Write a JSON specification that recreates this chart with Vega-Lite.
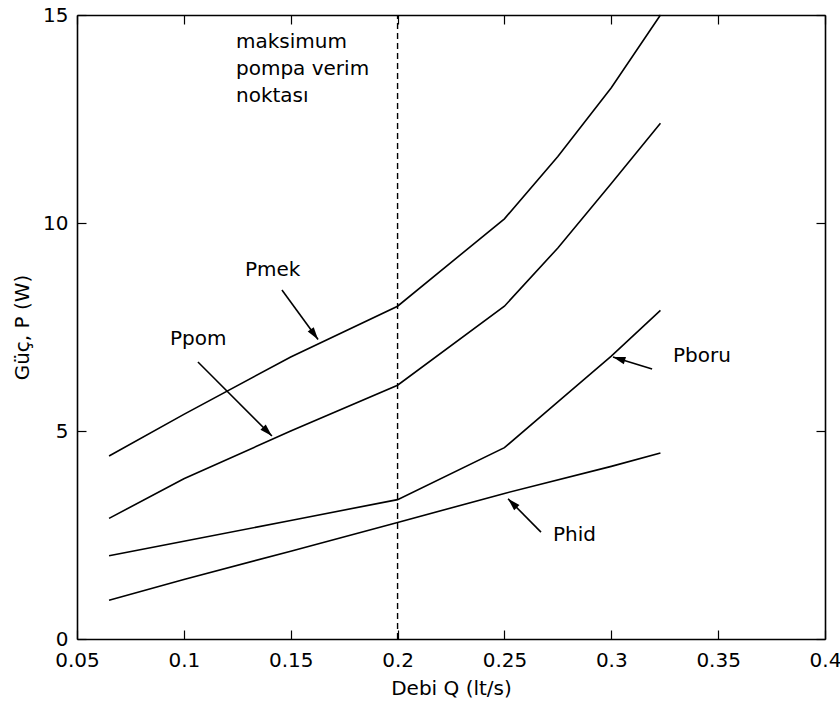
{
  "$schema": "https://vega.github.io/schema/vega-lite/v6.json",
  "autosize": {"type": "none"},
  "padding": {"left": 77, "top": 15, "right": 15, "bottom": 72},
  "width": 748,
  "height": 624,
  "background": "white",
  "config": {
    "font": "DejaVu Sans",
    "view": {"stroke": null},
    "axis": {
      "grid": false,
      "domainColor": "black",
      "domainWidth": 1.6,
      "tickColor": "black",
      "tickWidth": 1.2,
      "tickSize": -9,
      "labelFont": "DejaVu Sans",
      "labelFontSize": 20,
      "labelColor": "black",
      "titleFont": "DejaVu Sans",
      "titleFontSize": 20,
      "titleFontWeight": "normal",
      "titleColor": "black"
    }
  },
  "datasets": {
    "curves": [
      {"series": "Pmek", "Q": 0.065, "P": 4.4},
      {"series": "Pmek", "Q": 0.1, "P": 5.4},
      {"series": "Pmek", "Q": 0.15, "P": 6.78},
      {"series": "Pmek", "Q": 0.2, "P": 8.0},
      {"series": "Pmek", "Q": 0.25, "P": 10.1},
      {"series": "Pmek", "Q": 0.275, "P": 11.6},
      {"series": "Pmek", "Q": 0.3, "P": 13.25},
      {"series": "Pmek", "Q": 0.323, "P": 15.0},
      {"series": "Ppom", "Q": 0.065, "P": 2.9},
      {"series": "Ppom", "Q": 0.1, "P": 3.85},
      {"series": "Ppom", "Q": 0.15, "P": 5.0},
      {"series": "Ppom", "Q": 0.2, "P": 6.1},
      {"series": "Ppom", "Q": 0.25, "P": 8.0},
      {"series": "Ppom", "Q": 0.275, "P": 9.4},
      {"series": "Ppom", "Q": 0.3, "P": 10.95},
      {"series": "Ppom", "Q": 0.323, "P": 12.4},
      {"series": "Pboru", "Q": 0.065, "P": 2.0},
      {"series": "Pboru", "Q": 0.1, "P": 2.35},
      {"series": "Pboru", "Q": 0.15, "P": 2.85},
      {"series": "Pboru", "Q": 0.2, "P": 3.35},
      {"series": "Pboru", "Q": 0.25, "P": 4.6},
      {"series": "Pboru", "Q": 0.275, "P": 5.7},
      {"series": "Pboru", "Q": 0.3, "P": 6.8},
      {"series": "Pboru", "Q": 0.323, "P": 7.9},
      {"series": "Phid", "Q": 0.065, "P": 0.93},
      {"series": "Phid", "Q": 0.1, "P": 1.43},
      {"series": "Phid", "Q": 0.15, "P": 2.11},
      {"series": "Phid", "Q": 0.2, "P": 2.8},
      {"series": "Phid", "Q": 0.25, "P": 3.5},
      {"series": "Phid", "Q": 0.3, "P": 4.15},
      {"series": "Phid", "Q": 0.323, "P": 4.47}
    ],
    "arrows": [
      {"series": "Pmek", "x": 0.1459, "y": 8.39, "x2": 0.1628, "y2": 7.2},
      {"series": "Ppom", "x": 0.1066, "y": 6.66, "x2": 0.1412, "y2": 4.88},
      {"series": "Pboru", "x": 0.3191, "y": 6.49, "x2": 0.3008, "y2": 6.78},
      {"series": "Phid", "x": 0.2671, "y": 2.57, "x2": 0.2517, "y2": 3.37}
    ],
    "labels": [
      {"text": "Pmek", "x": 0.1286, "y": 8.73},
      {"text": "Ppom", "x": 0.0935, "y": 7.07},
      {"text": "Pboru", "x": 0.3289, "y": 6.66},
      {"text": "Phid", "x": 0.2727, "y": 2.36},
      {"text": "maksimum", "x": 0.1244, "y": 14.21},
      {"text": "pompa verim", "x": 0.1244, "y": 13.56},
      {"text": "noktası", "x": 0.1244, "y": 12.91}
    ],
    "marker": [{"Q": 0.2}]
  },
  "resolve": {"axis": {"x": "independent", "y": "independent"}},
  "layer": [
    {
      "data": {"name": "curves"},
      "mark": {"type": "line", "color": "black", "strokeWidth": 1.6},
      "encoding": {
        "x": {"field": "Q", "type": "quantitative",
              "scale": {"domain": [0.05, 0.4], "nice": false, "zero": false},
              "axis": {"orient": "bottom", "title": "Debi Q (lt/s)", "values": [0.05, 0.1, 0.15, 0.2, 0.25, 0.3, 0.35, 0.4], "format": "~g", "labelPadding": 20, "titlePadding": 8, "labelFlush": false}},
        "y": {"field": "P", "type": "quantitative",
              "scale": {"domain": [0, 15], "nice": false},
              "axis": {"orient": "left", "title": "Güç, P (W)", "values": [0, 5, 10, 15], "labelPadding": 18, "titlePadding": 10, "labelFlush": false}},
        "detail": {"field": "series"}
      }
    },
    {
      "data": {"name": "marker"},
      "mark": {"type": "rule", "color": "black", "strokeWidth": 1.4, "strokeDash": [6, 4]},
      "encoding": {
        "x": {"field": "Q", "type": "quantitative",
              "scale": {"domain": [0.05, 0.4], "nice": false, "zero": false},
              "axis": {"orient": "top", "title": null, "labels": false, "values": [0.05, 0.1, 0.15, 0.2, 0.25, 0.3, 0.35, 0.4]}},
        "y": {"datum": 0, "type": "quantitative",
              "scale": {"domain": [0, 15], "nice": false},
              "axis": {"orient": "right", "title": null, "labels": false, "values": [0, 5, 10, 15]}},
        "y2": {"datum": 15}
      }
    },
    {
      "data": {"name": "arrows"},
      "mark": {"type": "rule", "color": "black", "strokeWidth": 1.6},
      "encoding": {
        "x": {"field": "x", "type": "quantitative", "axis": null},
        "y": {"field": "y", "type": "quantitative", "axis": null},
        "x2": {"field": "x2"},
        "y2": {"field": "y2"}
      }
    },
    {
      "data": {"name": "arrows"},
      "transform": [
        {"calculate": "atan2((datum.x2 - datum.x) * 748 / 0.35, (datum.y2 - datum.y) * 624 / 15) * 180 / PI", "as": "ang"}
      ],
      "mark": {"type": "point", "shape": "M0,0L0.3,1L-0.3,1Z", "filled": true, "color": "black", "opacity": 1, "size": 620},
      "encoding": {
        "x": {"field": "x2", "type": "quantitative", "axis": null},
        "y": {"field": "y2", "type": "quantitative", "axis": null},
        "angle": {"field": "ang", "type": "quantitative", "scale": null}
      }
    },
    {
      "data": {"name": "labels"},
      "mark": {"type": "text", "align": "left", "baseline": "alphabetic", "font": "DejaVu Sans", "fontSize": 20, "color": "black"},
      "encoding": {
        "x": {"field": "x", "type": "quantitative", "axis": null},
        "y": {"field": "y", "type": "quantitative", "axis": null},
        "text": {"field": "text"}
      }
    }
  ]
}
